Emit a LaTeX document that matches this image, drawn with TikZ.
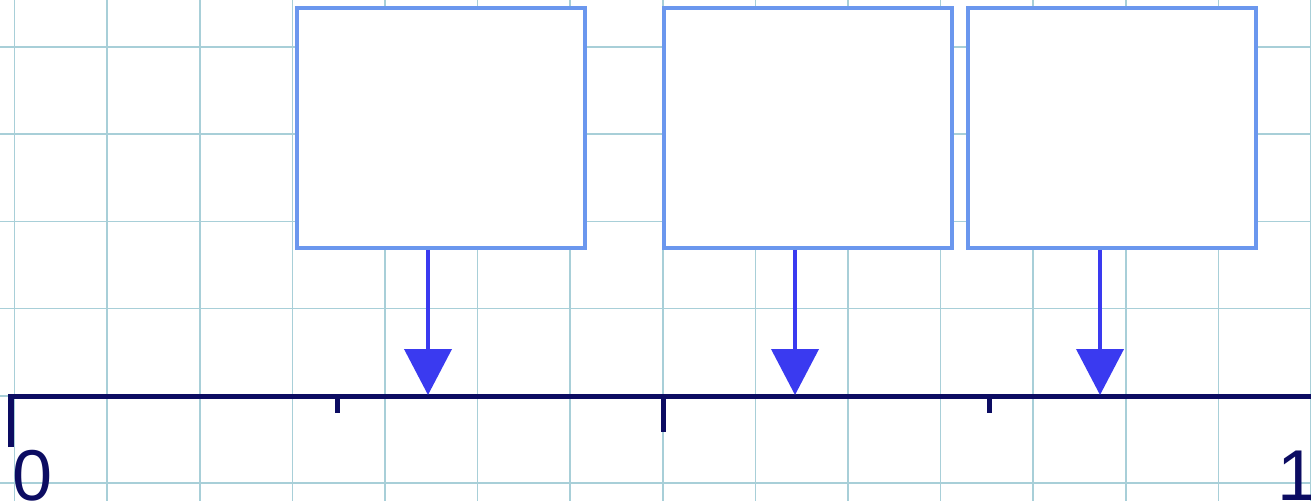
\documentclass[tikz,border=0pt]{standalone}
\usepackage{fontspec}
\setmainfont{Liberation Sans}
\usetikzlibrary{arrows.meta}
\definecolor{gridc}{HTML}{A8CFD8}
\definecolor{boxc}{HTML}{6B97EE}
\definecolor{arrc}{HTML}{3A3AF0}
\definecolor{axisc}{HTML}{0C0C62}
\tikzset{
  gridline/.style={draw=gridc, line width=1.5pt},
  axisline/.style={draw=axisc, line width=5.5pt, line join=miter},
  tickline/.style={draw=axisc, line width=5pt},
  emptybox/.style={draw=boxc, line width=3.5pt, fill=white, minimum width=288pt, minimum height=240pt, inner sep=0pt},
  pointer/.style={draw=arrc, line width=4pt, -{Triangle[width=47pt,length=46pt]}},
  numlabel/.style={anchor=base west, inner sep=0pt, text=axisc, font=\fontsize{72}{72}\selectfont}
}
\begin{document}
\begin{tikzpicture}[x=1pt,y=-1pt]
\useasboundingbox (0,0) rectangle (1311,501);
\fill[white] (0,0) rectangle (1311,501);
% grid
\foreach \i in {0,...,14} \draw[gridline] ({14.6+92.6*\i},0) -- ({14.6+92.6*\i},501);
\foreach \j in {0,...,5} \draw[gridline] (0,{47+87.2*\j}) -- (1311,{47+87.2*\j});
% axis
\coordinate (a0) at (11,396.5);
\coordinate (a1) at (1325,396.5);
\draw[axisline] (11,447) -- (a0) -- (a1);
\draw[tickline] (337,396.5) -- (337,413);
\draw[tickline] (663,396.5) -- (663,432);
\draw[tickline] (989,396.5) -- (989,413);
% labels
\node[numlabel] (l0) at (12,500) {0};
\node[numlabel] (l1) at (1277,500) {1};
% boxes
\node[emptybox] (b1) at (441,128) {};
\node[emptybox] (b2) at (808,128) {};
\node[emptybox] (b3) at (1112,128) {};
% arrow targets
\coordinate (t1) at (428,395);
\coordinate (t2) at (795,395);
\coordinate (t3) at (1100,395);
\draw[pointer] (b1.south -| t1) -- (t1);
\draw[pointer] (b2.south -| t2) -- (t2);
\draw[pointer] (b3.south -| t3) -- (t3);
\end{tikzpicture}
\end{document}
